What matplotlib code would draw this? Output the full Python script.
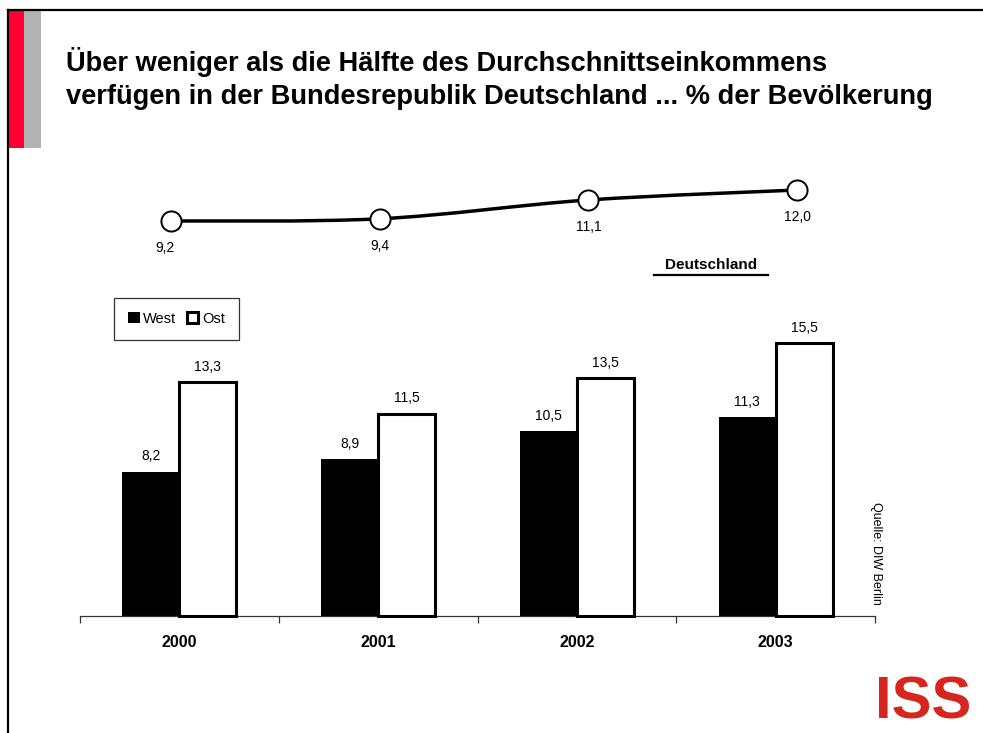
import matplotlib
matplotlib.use("Agg")
import matplotlib.pyplot as plt
from matplotlib.path import Path
from matplotlib.patches import PathPatch, Rectangle
from matplotlib.lines import Line2D
import numpy as np

plt.rcParams['font.family'] = ['Liberation Sans', 'DejaVu Sans']

# ---- data ----
years = ['2000', '2001', '2002', '2003']
west = [8.2, 8.9, 10.5, 11.3]
ost = [13.3, 11.5, 13.5, 15.5]
deutschland = [9.2, 9.4, 11.1, 12.0]
title = ("Über weniger als die Hälfte des Durchschnittseinkommens\n"
         "verfügen in der Bundesrepublik Deutschland ... % der Bevölkerung")
series_names = ['West', 'Ost']
line_name = 'Deutschland'
source = 'Quelle: DIW Berlin'


def fmt(v):
    return f"{v:.1f}".replace('.', ',')


W, H = 983, 733
fig = plt.figure(figsize=(W / 100, H / 100), dpi=100)


def fx(px):
    return px / W


def fy(py):
    return 1 - py / H


# ---- slide decoration ----
fig.add_artist(Line2D([fx(8), 1], [fy(10), fy(10)], color='black', lw=1.6))
fig.add_artist(Line2D([fx(8), fx(8)], [fy(10), 0], color='black', lw=1.6))
fig.add_artist(Rectangle((fx(8), fy(148)), fx(24) - fx(8), fy(10) - fy(148),
                         transform=fig.transFigure, color='#ff0033', lw=0))
fig.add_artist(Rectangle((fx(24), fy(148)), fx(41) - fx(24), fy(10) - fy(148),
                         transform=fig.transFigure, color='#b2b2b2', lw=0))

fig.text(fx(66), fy(78.5), title, ha='left', va='center', fontsize=19.65,
         fontweight='bold', linespacing=1.39)

# ---- bar chart ----
px_per_unit = 17.58
y_axis_px = 615.7
top_px = 300
ax = fig.add_axes([fx(80), fy(y_axis_px), fx(875) - fx(80), fy(top_px) - fy(y_axis_px)])
ax.set_xlim(-0.5, len(years) - 0.5)
ax.set_ylim(0, (y_axis_px - top_px) / px_per_unit)
x = np.arange(len(years))
bw = 0.287
b1 = ax.bar(x - bw / 2, west, bw, color='black', edgecolor='black', lw=0,
            label=series_names[0], zorder=2)
b2 = ax.bar(x + bw / 2, ost, bw, color='white', edgecolor='black', lw=2.2,
            label=series_names[1], zorder=3, clip_on=False)
for xi, v in zip(x - bw / 2, west):
    ax.annotate(fmt(v), (xi, v), xytext=(0, 11), textcoords='offset points',
                ha='center', va='center', fontsize=10)
for xi, v in zip(x + bw / 2, ost):
    ax.annotate(fmt(v), (xi, v), xytext=(0, 11), textcoords='offset points',
                ha='center', va='center', fontsize=10)

for s in ['top', 'right', 'left']:
    ax.spines[s].set_visible(False)
ax.spines['bottom'].set_color('#333333')
ax.spines['bottom'].set_linewidth(0.9)
ax.set_yticks([])
ax.set_xticks(x)
ax.set_xticklabels(years, fontsize=11.5, fontweight='bold')
ax.tick_params(axis='x', which='major', length=0, pad=14)
ax.set_xticks(np.arange(-0.5, len(years), 1.0), minor=True)
ax.tick_params(axis='x', which='minor', length=5, width=0.9, color='#333333',
               direction='out')

leg = fig.legend(handles=[b1, b2], loc='upper left',
                 bbox_to_anchor=(fx(114), fy(298)), ncol=2, frameon=True,
                 fancybox=False, shadow=False, fontsize=10.5,
                 handlelength=0.8, handleheight=0.8, handletextpad=0.25,
                 columnspacing=0.7, borderpad=0.95, borderaxespad=0)
leg.get_frame().set_edgecolor('black')
leg.get_frame().set_linewidth(0.9)

# ---- line chart ----
lpx0, lspace = 171, 208.67
xl0 = (80 - lpx0) / lspace
xl1 = (875 - lpx0) / lspace
upx = 11.07
top_l, bot_l = 165, 255
axl = fig.add_axes([fx(80), fy(bot_l), fx(875) - fx(80), fy(top_l) - fy(bot_l)])
axl.set_xlim(xl0, xl1)
axl.set_ylim(deutschland[0] - (bot_l - 221) / upx, deutschland[0] + (221 - top_l) / upx)
axl.axis('off')

pts = np.column_stack([np.arange(len(deutschland)), deutschland])
verts = [tuple(pts[0])]
codes = [Path.MOVETO]
n = len(pts)
for i in range(n - 1):
    p0 = pts[i - 1] if i > 0 else pts[i]
    p1, p2 = pts[i], pts[i + 1]
    p3 = pts[i + 2] if i + 2 < n else pts[i + 1]
    c1 = p1 + (p2 - p0) / 6
    c2 = p2 - (p3 - p1) / 6
    verts += [tuple(c1), tuple(c2), tuple(p2)]
    codes += [Path.CURVE4] * 3
axl.add_patch(PathPatch(Path(verts, codes), fill=False, lw=2.5, color='black',
                        capstyle='round'))
axl.plot(np.arange(len(deutschland)), deutschland, ls='none', marker='o',
         ms=14.5, mfc='white', mec='black', mew=1.4, zorder=5)
for i, v in enumerate(deutschland):
    dx = -4 if i == 0 else 0
    axl.annotate(fmt(v), (i, v), xytext=(dx, -19.5), textcoords='offset points',
                 ha='center', va='center', fontsize=10)

fig.text(fx(711), fy(265), line_name, ha='center', va='center', fontsize=11,
         fontweight='bold')
fig.add_artist(Line2D([fx(654), fx(768)], [fy(275), fy(275)], color='black', lw=1.6))

fig.text(fx(876), fy(553), source, rotation=270, ha='center', va='center',
         fontsize=9)

fig.text(fx(923), fy(703), 'ISS', ha='center', va='center', fontsize=43,
         fontweight='bold', color='#d7261e')

fig.savefig('out.png', dpi=100)
